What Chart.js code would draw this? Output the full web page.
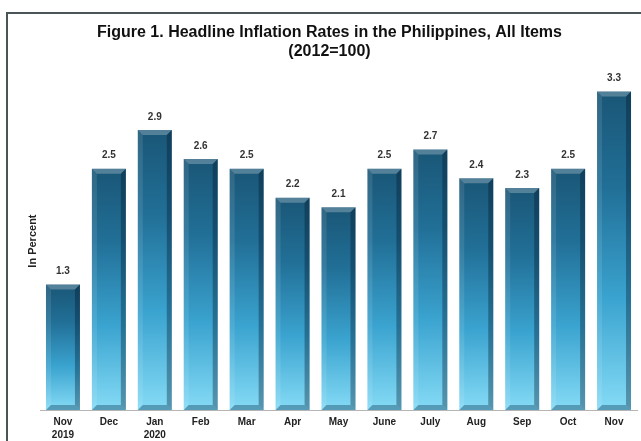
<!DOCTYPE html>
<html>
<head>
    <title>Headline Inflation Rates in the Philippines</title>
    <style>
        body {
            margin: 0;
            background-color: #ffffff;
        }
        #wrap {
            width: 641px;
            height: 441px;
        }
    </style>
</head>
<body>
    <div id="wrap">
        <canvas id="inflacion-chart" width="641" height="441"></canvas>
    </div>

    <script src="https://cdn.jsdelivr.net/npm/chart.js"></script>
    <script>
        // Datos del grafico
        var meses = [['Nov', '2019'], 'Dec', ['Jan', '2020'], 'Feb', 'Mar', 'Apr', 'May', 'June', 'July', 'Aug', 'Sep', 'Oct', 'Nov'];
        var tasas = [1.3, 2.5, 2.9, 2.6, 2.5, 2.2, 2.1, 2.5, 2.7, 2.4, 2.3, 2.5, 3.3];
        var tituloGrafico = ['Figure 1. Headline Inflation Rates in the Philippines, All Items', '(2012=100)'];
        var tituloEje = 'In Percent';

        // Degradado vertical de cada barra (oscuro arriba, claro abajo)
        function degradadoBarra(context) {
            var chart = context.chart;
            if (!chart.chartArea || !chart.scales.y) {
                return '#2a85b0';
            }
            var yScale = chart.scales.y;
            var arriba = yScale.getPixelForValue(context.raw);
            var abajo = yScale.getPixelForValue(0);
            var g = chart.ctx.createLinearGradient(0, arriba, 0, abajo);
            g.addColorStop(0, '#1a5676');
            g.addColorStop(0.3, '#216f97');
            g.addColorStop(0.65, '#3aa3cf');
            g.addColorStop(1, '#85dbf6');
            return g;
        }

        // Marco y fondo
        var marco = {
            id: 'marco',
            beforeDraw: function (chart) {
                var ctx = chart.ctx;
                ctx.save();
                ctx.fillStyle = '#ffffff';
                ctx.fillRect(0, 0, chart.width, chart.height);
                ctx.strokeStyle = '#4a5558';
                ctx.lineWidth = 2;
                ctx.beginPath();
                ctx.moveTo(chart.width, 13);
                ctx.lineTo(7, 13);
                ctx.lineTo(7, chart.height);
                ctx.stroke();
                ctx.restore();
            }
        };

        // Biselado y etiquetas de valor
        var biselEtiquetas = {
            id: 'biselEtiquetas',
            afterDatasetsDraw: function (chart) {
                var ctx = chart.ctx;
                var meta = chart.getDatasetMeta(0);
                ctx.save();
                meta.data.forEach(function (bar, i) {
                    var izq = bar.x - bar.width / 2;
                    var der = bar.x + bar.width / 2;
                    var top = bar.y;
                    var base = bar.base;
                    var b = 5;

                    // cara superior
                    ctx.fillStyle = 'rgba(255,255,255,0.25)';
                    ctx.beginPath();
                    ctx.moveTo(izq, top);
                    ctx.lineTo(der, top);
                    ctx.lineTo(der - b, top + b);
                    ctx.lineTo(izq + b, top + b);
                    ctx.closePath();
                    ctx.fill();

                    // lado izquierdo
                    ctx.fillStyle = 'rgba(255,255,255,0.10)';
                    ctx.beginPath();
                    ctx.moveTo(izq, top);
                    ctx.lineTo(izq + b, top + b);
                    ctx.lineTo(izq + b, base - b);
                    ctx.lineTo(izq, base);
                    ctx.closePath();
                    ctx.fill();

                    // lado derecho
                    ctx.fillStyle = 'rgba(0,20,40,0.35)';
                    ctx.beginPath();
                    ctx.moveTo(der, top);
                    ctx.lineTo(der - b, top + b);
                    ctx.lineTo(der - b, base - b);
                    ctx.lineTo(der, base);
                    ctx.closePath();
                    ctx.fill();

                    // cara inferior
                    ctx.fillStyle = 'rgba(0,40,70,0.35)';
                    ctx.beginPath();
                    ctx.moveTo(izq, base);
                    ctx.lineTo(der, base);
                    ctx.lineTo(der - b, base - b);
                    ctx.lineTo(izq + b, base - b);
                    ctx.closePath();
                    ctx.fill();

                    // etiqueta
                    ctx.fillStyle = '#333333';
                    ctx.font = 'bold 10px Arial, "Liberation Sans", sans-serif';
                    ctx.textAlign = 'center';
                    ctx.textBaseline = 'middle';
                    ctx.fillText(tasas[i].toFixed(1), bar.x, top - 13);
                });
                ctx.restore();
            }
        };

        var chartData = {
            labels: meses,
            datasets: [{
                label: 'Headline Inflation',
                data: tasas,
                backgroundColor: degradadoBarra,
                borderWidth: 0,
                categoryPercentage: 1.0,
                barPercentage: 0.74
            }]
        };

        var chartOptions = {
            responsive: false,
            animation: false,
            layout: {
                padding: { left: 22, right: 4, top: 12, bottom: 0 }
            },
            plugins: {
                legend: { display: false },
                tooltip: { enabled: false },
                title: {
                    display: true,
                    text: tituloGrafico,
                    color: '#111111',
                    font: { family: 'Arial, "Liberation Sans", sans-serif', size: 16, weight: 'bold', lineHeight: 1.13 },
                    padding: { top: 12, bottom: 12 }
                }
            },
            scales: {
                x: {
                    grid: { display: false, drawTicks: false },
                    border: { display: true, color: '#b5b5b5', width: 1 },
                    ticks: {
                        color: '#222222',
                        padding: 5,
                        maxRotation: 0,
                        autoSkip: false,
                        font: { family: 'Arial, "Liberation Sans", sans-serif', size: 10, weight: 'bold', lineHeight: 1.35 }
                    },
                    afterFit: function (s) { s.height = 31; }
                },
                y: {
                    min: 0,
                    max: 3.5,
                    grid: { display: false },
                    border: { display: false },
                    ticks: { display: false },
                    title: {
                        display: true,
                        text: tituloEje,
                        color: '#222222',
                        padding: { top: 4, bottom: 0 },
                        font: { family: 'Arial, "Liberation Sans", sans-serif', size: 11, weight: 'bold' }
                    },
                    afterFit: function (s) { s.width = 18; }
                }
            }
        };

        new Chart(document.getElementById('inflacion-chart'), {
            type: 'bar',
            data: chartData,
            options: chartOptions,
            plugins: [marco, biselEtiquetas]
        });
    </script>
</body>
</html>
